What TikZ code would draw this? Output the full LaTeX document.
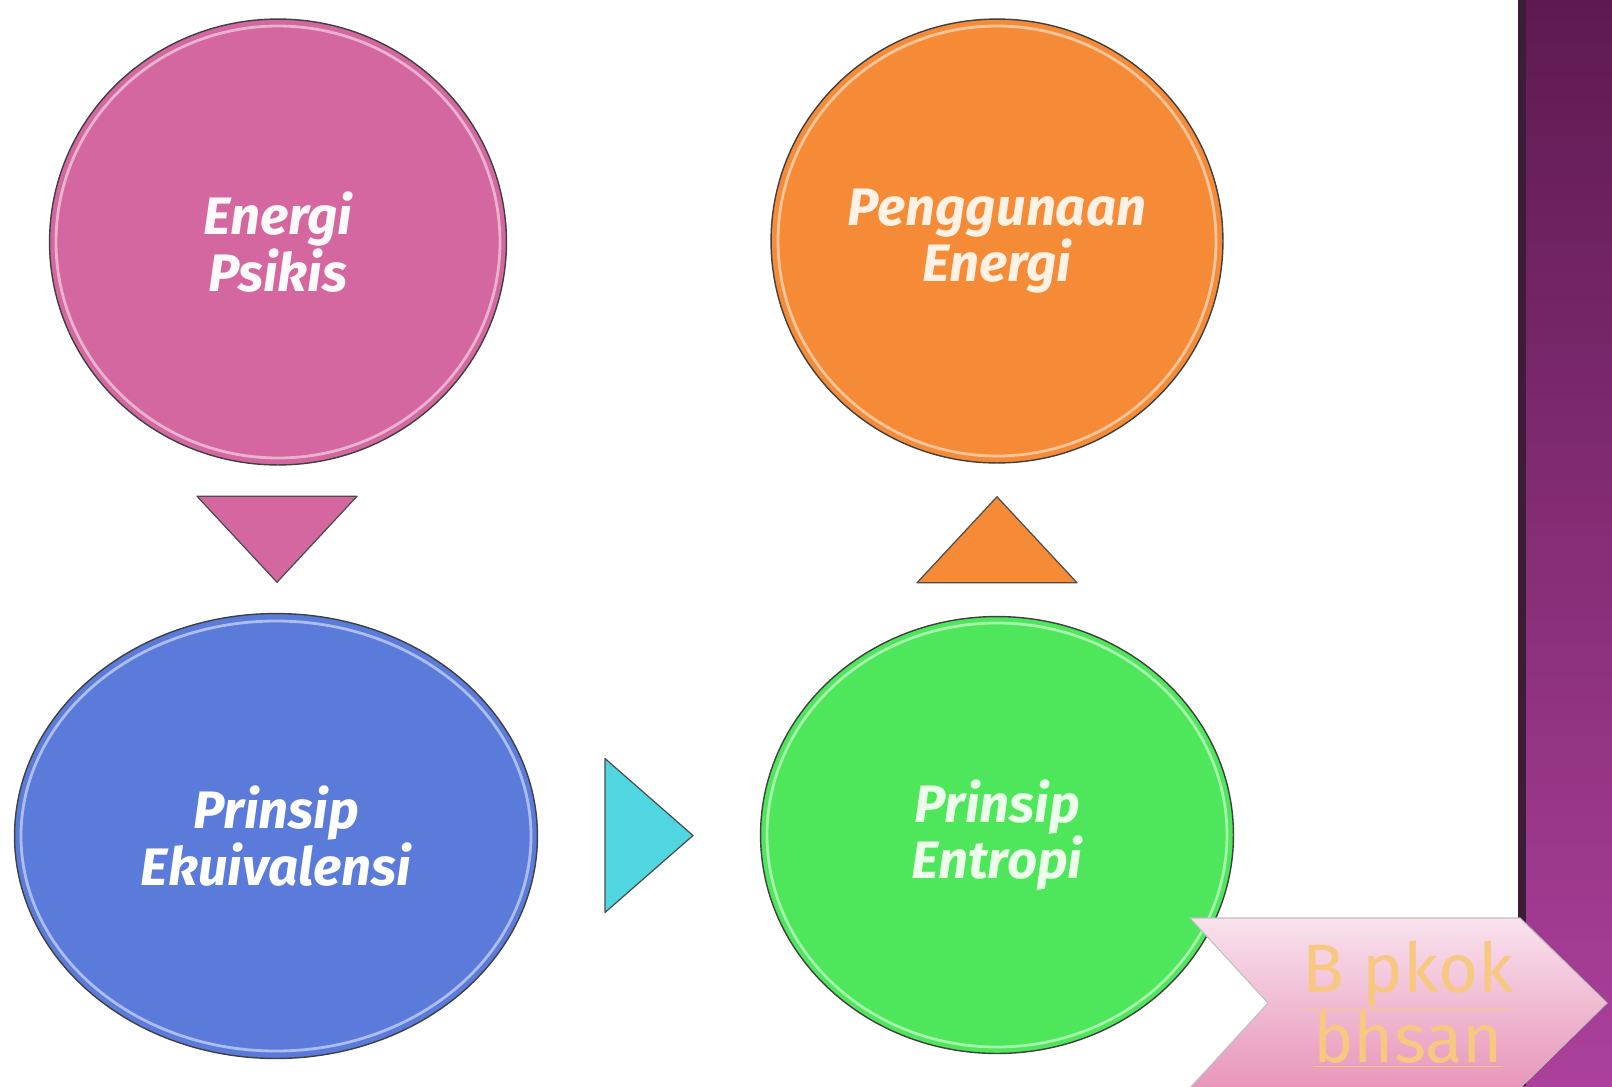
\documentclass[tikz,border=0pt]{standalone}
\usepackage{fontspec}
\setmainfont{Fira Sans}
\usepackage{tikz}
\usetikzlibrary{shapes.geometric,calc}

\definecolor{pinkc}{RGB}{212,103,160}
\definecolor{orangec}{RGB}{246,139,55}
\definecolor{bluec}{RGB}{91,123,219}
\definecolor{greenc}{RGB}{78,230,90}
\definecolor{cyanc}{RGB}{80,214,224}
\definecolor{barTop}{RGB}{94,26,80}
\definecolor{barBot}{RGB}{172,64,156}
\definecolor{barEdge}{RGB}{60,28,54}
\definecolor{navTop}{RGB}{249,226,238}
\definecolor{navBot}{RGB}{232,150,186}
\definecolor{navTxt}{RGB}{247,200,128}

\begin{document}
\begin{tikzpicture}[x=0.02cm,y=-0.02cm,
    every node/.style={inner sep=0pt},
    bubble/.style={ellipse,draw=black!75,line width=0.8pt,align=center,
      font=\fontsize{30}{29}\selectfont\bfseries\itshape},
    glint/.style={white,opacity=0.5,line width=1.6pt},
    arrowtri/.style={draw=black!70,line width=0.7pt,line join=round}]

    \useasboundingbox (0,0) rectangle (1612,1086);
    \fill[white] (0,0) rectangle (1612,1086);

    % Side bar
    \shade[top color=barTop,bottom color=barBot] (1518,0) rectangle (1612,1086);
    \fill[barEdge] (1518,0) rectangle (1526,1086);

    % Bubbles
    \node[bubble,fill=pinkc,text=pink!8,minimum width=9.14cm,minimum height=8.92cm]
      (psy) at (278,242) {Energi\\Psikis};
    \node[bubble,fill=orangec,text=orange!10,minimum width=9.04cm,minimum height=8.88cm]
      (use) at (997,241) {Penggunaan\\Energi};
    \node[bubble,fill=bluec,text=white,minimum width=10.46cm,minimum height=8.9cm]
      (ekv) at (276,836) {Prinsip\\Ekuivalensi};
    \node[bubble,fill=greenc,text=green!8,minimum width=9.46cm,minimum height=8.74cm]
      (ent) at (997,835) {Prinsip\\Entropi};

    % Gloss rings
    \draw[glint] (psy.center) ellipse [x radius=222, y radius=216];
    \draw[glint] (use.center) ellipse [x radius=219, y radius=215];
    \draw[glint] (ekv.center) ellipse [x radius=255, y radius=215];
    \draw[glint] (ent.center) ellipse [x radius=230, y radius=212];

    % Arrow triangles
    \coordinate (d1) at ($(psy.south)!0.5!(ekv.north)$);
    \coordinate (d2) at ($(ekv.east)!0.5!(ent.west)$);
    \coordinate (d3) at ($(use.south)!0.5!(ent.north)$);
    \draw[arrowtri,fill=pinkc] ($(d1)+(-80,-43)$) -- ($(d1)+(80,-43)$)
      -- ($(d1)+(0,43)$) -- cycle;
    \draw[arrowtri,fill=cyanc] ($(d2)+(-44,-77)$) -- ($(d2)+(44,0)$)
      -- ($(d2)+(-44,77)$) -- cycle;
    \draw[arrowtri,fill=orangec] ($(d3)+(-80,43)$) -- ($(d3)+(80,43)$)
      -- ($(d3)+(0,-43)$) -- cycle;

    % Navigation button
    \shade[top color=navTop,bottom color=navBot,draw=black!25,line width=0.6pt]
      (1190,918) -- (1520,918) -- (1607,1003) -- (1520,1088)
      -- (1190,1088) -- (1268,1003) -- cycle;
    \node[font=\fontsize{39}{40}\selectfont,text=navTxt,align=center]
      (nav) at (1408,1004) {\underline{B pkok}\\\underline{bhsan}};

\end{tikzpicture}
\end{document}
